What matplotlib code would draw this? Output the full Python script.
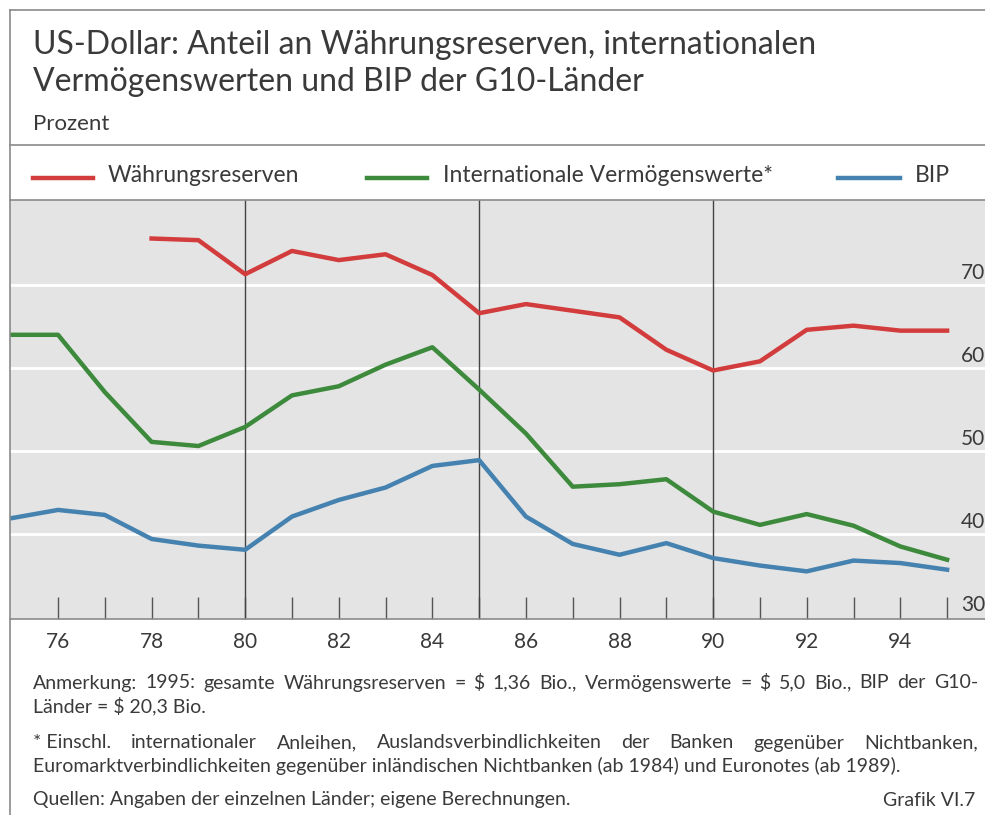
import numpy as np
import matplotlib
matplotlib.use("Agg")
import matplotlib.pyplot as plt
from matplotlib.lines import Line2D

plt.rcParams['font.family'] = ['Lato', 'DejaVu Sans']

# Jahreswerte (in Prozent)
jahre = list(range(1975, 1996))
reserven_jahre = list(range(1978, 1996))
waehrungsreserven = [75.6, 75.4, 71.3, 74.1, 73.0, 73.7, 71.2, 66.6, 67.7, 66.9,
                     66.1, 62.2, 59.7, 60.8, 64.6, 65.1, 64.5, 64.5]
vermoegenswerte = [64.0, 64.0, 57.1, 51.1, 50.6, 52.9, 56.7, 57.8, 60.4, 62.5, 57.4,
                   52.1, 45.7, 46.0, 46.6, 42.7, 41.1, 42.4, 41.0, 38.5, 36.9]
bip = [41.9, 42.9, 42.3, 39.4, 38.6, 38.1, 42.1, 44.1, 45.6, 48.2, 48.9,
       42.1, 38.8, 37.5, 38.9, 37.1, 36.2, 35.5, 36.8, 36.5, 35.7]

y_ticks = [30, 40, 50, 60, 70]

ROT = '#d23c3c'
GRUEN = '#3d8a3d'
BLAU = '#4582b0'
TEXT = '#3a3a3a'
RAHMEN = '#8a8a8a'

W, H = 985, 815
fig = plt.figure(figsize=(W / 100, H / 100), dpi=100)


def fx(px):
    return px / W


def fy(py):
    return 1 - py / H


# Zeichenbereich
ax = fig.add_axes([fx(10), fy(619), 1 - fx(10), fy(200) - fy(619)])
ax.set_facecolor('#e4e4e4')
ax.set_xlim(74.974, 95.81)
ax.set_ylim(29.76, 80.24)
for s in ax.spines.values():
    s.set_visible(False)
for seite in ['bottom', 'top']:
    ax.spines[seite].set_visible(True)
    ax.spines[seite].set_color(RAHMEN)
    ax.spines[seite].set_linewidth(1.2)

for v in y_ticks[1:]:
    ax.axhline(v, color='white', lw=2, zorder=1)
for v in [80, 85, 90]:
    ax.axvline(v, color='#444444', lw=1, zorder=2)

x = [j - 1900 for j in jahre]
ax.plot([j - 1900 for j in reserven_jahre], waehrungsreserven, color=ROT, lw=3.2, zorder=4)
ax.plot(x, vermoegenswerte, color=GRUEN, lw=3.2, zorder=4)
ax.plot(x, bip, color=BLAU, lw=3.2, zorder=4)

ax.set_yticks([])
ax.set_xticks(range(76, 96))
ax.set_xticklabels([str(t) if t % 2 == 0 else '' for t in range(76, 96)])
ax.tick_params(axis='x', direction='in', length=16, width=1, color='#555555',
               pad=9, labelsize=15, labelcolor=TEXT)

# y-Beschriftung rechts im Zeichenbereich
for v in y_ticks:
    ax.text(95.3, v + 1.5, str(v), fontsize=15, color=TEXT, va='center', ha='left',
            zorder=5)

# Rahmenlinien
fig.add_artist(Line2D([fx(10), fx(10)], [fy(10), 0], color=RAHMEN, lw=1.2))
fig.add_artist(Line2D([fx(10), 1], [fy(10), fy(10)], color=RAHMEN, lw=1.2))
fig.add_artist(Line2D([fx(10), 1], [fy(145), fy(145)], color=RAHMEN, lw=1.2))

# Titel
fig.text(fx(33), fy(45), 'US-Dollar: Anteil an Währungsreserven, internationalen',
         fontsize=23, color=TEXT, va='center')
fig.text(fx(33), fy(82), 'Vermögenswerten und BIP der G10-Länder',
         fontsize=23, color=TEXT, va='center')
fig.text(fx(33), fy(124), 'Prozent', fontsize=16, color=TEXT, va='center')

# Legende
legende = [(33, 93, 108, ROT, 'Währungsreserven'),
           (367, 427, 443, GRUEN, 'Internationale Vermögenswerte*'),
           (838, 900, 915, BLAU, 'BIP')]
for x0, x1, xt, farbe, name in legende:
    fig.add_artist(Line2D([fx(x0), fx(x1)], [fy(178), fy(178)], color=farbe, lw=3.2))
    fig.text(fx(xt), fy(176), name, fontsize=16.5, color=TEXT, va='center')

# Anmerkungen
renderer = fig.canvas.get_renderer()


def blocksatz(text, x0, x1, y, size):
    woerter = text.split(' ')
    objs = [fig.text(0, fy(y), w, fontsize=size, color=TEXT, va='center') for w in woerter]
    breiten = [o.get_window_extent(renderer).width for o in objs]
    luecke = max((x1 - x0 - sum(breiten)) / (len(woerter) - 1), 2)
    pos = x0
    for o, b in zip(objs, breiten):
        o.set_x(fx(pos))
        pos += b + luecke


fs = 14
blocksatz('Anmerkung: 1995: gesamte Währungsreserven = $ 1,36 Bio., Vermögenswerte = $ 5,0 Bio., BIP der G10-',
          33, 978, 683, fs)
fig.text(fx(33), fy(706), 'Länder = $ 20,3 Bio.', fontsize=fs, color=TEXT, va='center')
blocksatz('*\u00a0Einschl. internationaler Anleihen, Auslandsverbindlichkeiten der Banken gegenüber Nichtbanken,',
          33, 978, 743, fs)
fig.text(fx(33), fy(766),
         'Euromarktverbindlichkeiten gegenüber inländischen Nichtbanken (ab 1984) und Euronotes (ab 1989).',
         fontsize=fs, color=TEXT, va='center')
fig.text(fx(33), fy(800), 'Quellen: Angaben der einzelnen Länder; eigene Berechnungen.',
         fontsize=fs, color=TEXT, va='center')
fig.text(fx(975), fy(800), 'Grafik VI.7', fontsize=fs, color=TEXT, va='center', ha='right')

fig.savefig('out.png', dpi=100)
